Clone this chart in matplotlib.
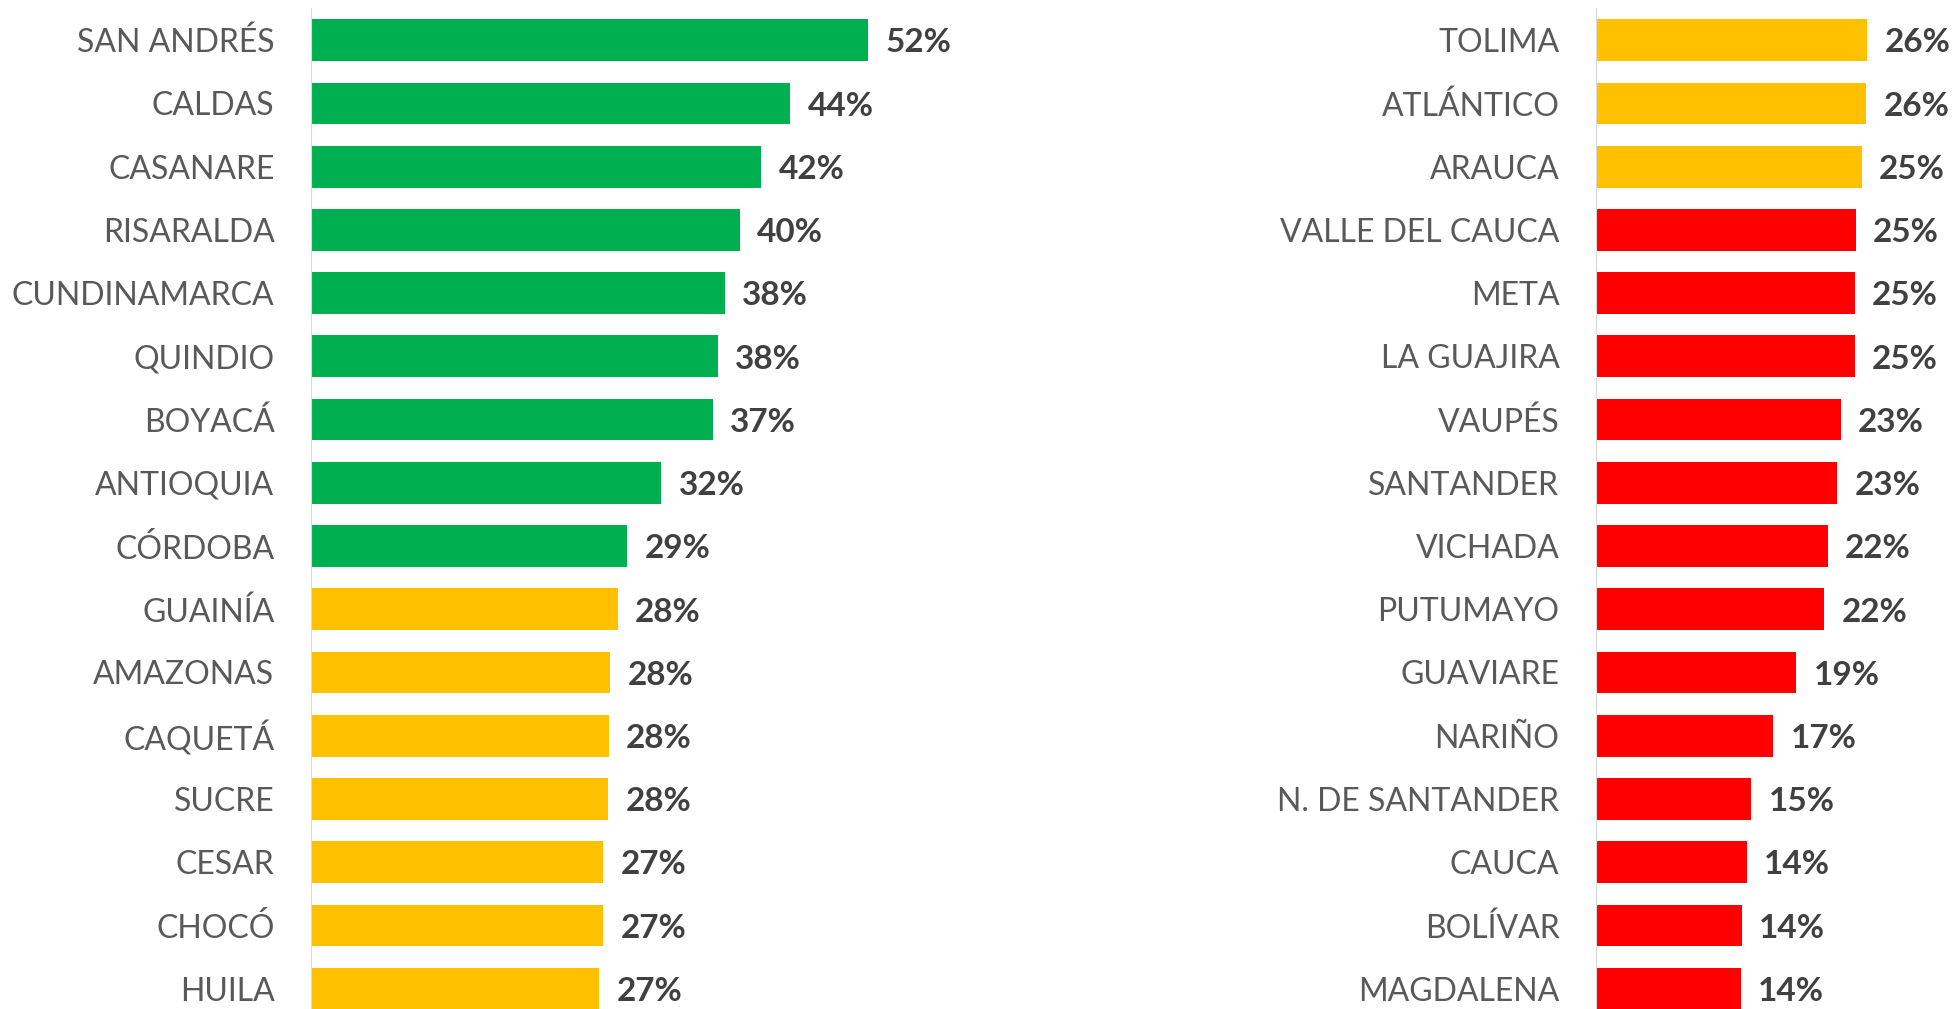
import matplotlib
matplotlib.use('Agg')
import matplotlib.pyplot as plt

plt.rcParams['font.family'] = ['Lato', 'DejaVu Sans']

# left panel
left_names = ['SAN ANDRÉS', 'CALDAS', 'CASANARE', 'RISARALDA', 'CUNDINAMARCA', 'QUINDIO',
              'BOYACÁ', 'ANTIOQUIA', 'CÓRDOBA', 'GUAINÍA', 'AMAZONAS', 'CAQUETÁ',
              'SUCRE', 'CESAR', 'CHOCÓ', 'HUILA']
left_values = [51.6, 44.4, 41.7, 39.7, 38.3, 37.7, 37.2, 32.45, 29.3, 28.4, 27.7, 27.6,
               27.55, 27.1, 27.1, 26.7]
left_level = ['alto', 'alto', 'alto', 'alto', 'alto', 'alto', 'alto', 'alto', 'alto',
              'medio', 'medio', 'medio', 'medio', 'medio', 'medio', 'medio']

# right panel
right_names = ['TOLIMA', 'ATLÁNTICO', 'ARAUCA', 'VALLE DEL CAUCA', 'META', 'LA GUAJIRA',
               'VAUPÉS', 'SANTANDER', 'VICHADA', 'PUTUMAYO', 'GUAVIARE', 'NARIÑO',
               'N. DE SANTANDER', 'CAUCA', 'BOLÍVAR', 'MAGDALENA']
right_values = [26.0, 25.9, 25.45, 24.9, 24.8, 24.8, 23.45, 23.1, 22.2, 21.9, 19.2, 17.0,
                14.9, 14.45, 14.0, 13.9]
right_level = ['medio', 'medio', 'medio', 'bajo', 'bajo', 'bajo', 'bajo', 'bajo', 'bajo',
               'bajo', 'bajo', 'bajo', 'bajo', 'bajo', 'bajo', 'bajo']

level_colors = {'alto': '#00B050', 'medio': '#FFC000', 'bajo': '#FF0000'}

W, H = 1954, 1009
fig = plt.figure(figsize=(W / 100, H / 100), dpi=100)


def panel(x0, x1, xmax, names, values, levels):
    ax = fig.add_axes([x0 / W, 0, (x1 - x0) / W, 1])
    pos = list(range(len(names)))
    ax.barh(pos, values, height=0.66, color=[level_colors[l] for l in levels])
    for p, v in zip(pos, values):
        ax.annotate(f'{round(v)}%', (v, p), xytext=(12.5, -2), textcoords='offset points',
                    va='center', ha='left', fontsize=24, fontweight='bold',
                    color='#404040', annotation_clip=False)
    ax.set_xlim(0, xmax)
    ax.set_ylim(15.322, -0.636)
    ax.set_yticks(pos)
    ax.set_yticklabels(names, fontsize=23, color='#595959')
    ax.tick_params(axis='y', length=0, pad=26)
    ax.set_xticks([])
    for s in ax.spines.values():
        s.set_visible(False)
    ax.axvline(0, ymin=0, ymax=0.991, color='#D9D9D9', lw=1.5)
    return ax


panel(310.5, 960, 649.5 / 10.81, left_names, left_values, left_level)
panel(1595.5, 1954, 358.5 / 10.455, right_names, right_values, right_level)

fig.savefig('out.png', dpi=100)
